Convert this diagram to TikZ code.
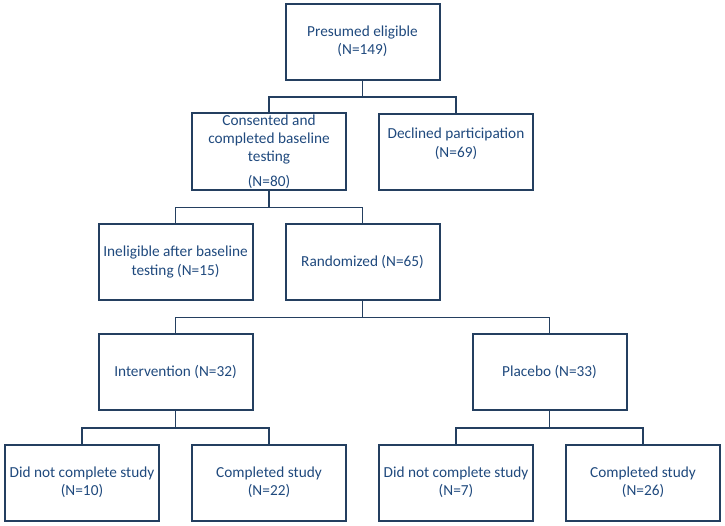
\documentclass[tikz,border=0pt]{standalone}
\usepackage{fontspec}
\setmainfont{Carlito}
\definecolor{boxline}{HTML}{243F60}
\definecolor{boxtext}{HTML}{1F497D}

\tikzset{
  flowbox/.style={draw=boxline, line width=2pt, minimum width=154pt, minimum height=76pt,
    inner sep=1pt, align=center, text=boxtext, font=\fontsize{15.3}{18.3}\selectfont},
  link/.style={draw=boxline, line width=1.8pt}
}

\begin{document}
\begin{tikzpicture}[x=1pt,y=-1pt]

  \useasboundingbox (0,0) rectangle (725,525);

  % spacing of the grid
  \def\numberOfColums{6}
  \def\numberOfRows{4}
  \def\spaceColums{93.5}
  \def\spaceRows{110.25}

  %Grid
  \foreach \x in {0,...,\numberOfColums}
    \foreach \y in {0,...,\numberOfRows}
      {\coordinate (g\x\y) at (82+\spaceColums*\x,41.5+\spaceRows*\y);}

  % Boxes
  \node[flowbox] (elig)  at (g30) {Presumed eligible\\(N=149)};
  \node[flowbox] (cons)  at (g21) {Consented and\\completed baseline\\testing\\[7pt](N=80)};
  \node[flowbox] (decl)  at (g41) {Declined participation\\(N=69)\\\mbox{}};
  \node[flowbox] (inel)  at (g12) {Ineligible after baseline\\testing (N=15)};
  \node[flowbox] (rand)  at (g32) {Randomized (N=65)};
  \node[flowbox] (intv)  at (g13) {Intervention (N=32)};
  \node[flowbox] (plac)  at (g53) {Placebo (N=33)};
  \node[flowbox] (notA)  at (g04) {Did not complete study\\(N=10)};
  \node[flowbox] (compA) at (g24) {Completed study\\(N=22)};
  \node[flowbox] (notB)  at (g44) {Did not complete study\\(N=7)};
  \node[flowbox] (compB) at (g64) {Completed study\\(N=26)};

  % Connectors
  \draw[link] (elig.south) -- ++(0,16.5) -| (cons.north);
  \draw[link] (elig.south) -- ++(0,16.5) -| (decl.north);

  \draw[link] (cons.south) -- ++(0,16.5) -| (inel.north);
  \draw[link] (cons.south) -- ++(0,16.5) -| (rand.north);

  \draw[link] (rand.south) -- ++(0,16.5) -| (intv.north);
  \draw[link] (rand.south) -- ++(0,16.5) -| (plac.north);

  \draw[link] (intv.south) -- ++(0,16.5) -| (notA.north);
  \draw[link] (intv.south) -- ++(0,16.5) -| (compA.north);

  \draw[link] (plac.south) -- ++(0,16.5) -| (notB.north);
  \draw[link] (plac.south) -- ++(0,16.5) -| (compB.north);

\end{tikzpicture}
\end{document}
